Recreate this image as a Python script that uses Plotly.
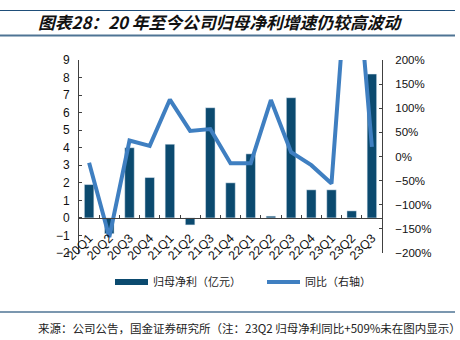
import plotly.graph_objects as go

categories = ["20Q1", "20Q2", "20Q3", "20Q4", "21Q1", "21Q2", "21Q3", "21Q4",
              "22Q1", "22Q2", "22Q3", "22Q4", "23Q1", "23Q2", "23Q3"]
net_profit = [1.9, -0.9, 4.0, 2.3, 4.2, -0.4, 6.28, 2.0,
              3.65, 0.1, 6.85, 1.6, 1.6, 0.4, 8.2]
yoy_pct = [-13, -167, 33, 22, 118, 53, 57, -14,
           -14, 117, 9, -18, -56, 509, 20]

bar_name = "归母净利（亿元）"
line_name = "同比（右轴）"
title_text = "图表28：20 年至今公司归母净利增速仍较高波动"
source_text = "来源：公司公告，国金证券研究所（注：23Q2 归母净利同比+509%未在图内显示）"

BAR_COLOR = "#0b4a6f"
LINE_COLOR = "#3f7fc1"
AXIS_COLOR = "#404040"
CJK = "Noto Sans CJK SC"
LAT = "Liberation Sans"

W, H = 460, 340
L, R, T, B = 79, 78, 60, 87
PW, PH = W - L - R, H - T - B

def px_x(px):
    return (px - L) / PW

def px_y(py):
    return (H - B - py) / PH

fig = go.Figure()
fig.add_trace(go.Bar(x=categories, y=net_profit, marker_color=BAR_COLOR,
                     name=bar_name, showlegend=False, yaxis="y"))
fig.add_trace(go.Scatter(x=categories, y=yoy_pct, mode="lines",
                         line=dict(color=LINE_COLOR, width=4), name=line_name,
                         showlegend=False, yaxis="y2"))
# legend entries
fig.add_trace(go.Scatter(x=[None], y=[None], mode="lines",
                         line=dict(color=BAR_COLOR, width=6), name=bar_name, yaxis="y"))
fig.add_trace(go.Scatter(x=[None], y=[None], mode="lines",
                         line=dict(color=LINE_COLOR, width=4), name=line_name, yaxis="y2"))

fig.update_layout(
    width=W, height=H,
    margin=dict(l=L, r=R, t=T, b=B, pad=0),
    plot_bgcolor="white", paper_bgcolor="white",
    bargap=0.53,
    showlegend=True,
    legend=dict(orientation="h", x=px_x(110), xanchor="left", y=px_y(282), yanchor="middle",
                font=dict(family=CJK, size=11, color="#222"), itemwidth=33,
                entrywidth=104, bgcolor="rgba(0,0,0,0)", traceorder="normal"),
    xaxis=dict(type="category", categoryorder="array", categoryarray=categories,
               anchor="free", position=2 / 11, showline=True, linecolor=AXIS_COLOR, linewidth=1,
               ticks="inside", ticklen=3, tickcolor=AXIS_COLOR, tickson="boundaries",
               tickangle=-45, tickfont=dict(family=LAT, size=12.5, color="#111"),
               ticklabelstandoff=7,
               showgrid=False, zeroline=False),
    yaxis=dict(range=[-2, 9], dtick=1, tick0=0, showline=True, linecolor=AXIS_COLOR, linewidth=1,
               ticks="inside", ticklen=3, tickcolor=AXIS_COLOR,
               tickfont=dict(family=LAT, size=12, color="#111"),
               showgrid=False, zeroline=False, ticklabelstandoff=6),
    yaxis2=dict(range=[-200, 200], dtick=50, tick0=0, overlaying="y", side="right",
                ticksuffix="%", showline=True, linecolor=AXIS_COLOR, linewidth=1,
                ticks="inside", ticklen=3, tickcolor=AXIS_COLOR,
                tickfont=dict(family=LAT, size=11.5, color="#111"),
                showgrid=False, zeroline=False, ticklabelstandoff=10),
)

shapes = [
    dict(type="line", xref="paper", yref="paper", x0=px_x(0), x1=px_x(455),
         y0=px_y(10.5), y1=px_y(10.5), line=dict(color="#1f4e79", width=1)),
    dict(type="line", xref="paper", yref="paper", x0=px_x(0), x1=px_x(455),
         y0=px_y(35.5), y1=px_y(35.5), line=dict(color="#4f7494", width=2)),
    dict(type="line", xref="paper", yref="paper", x0=px_x(0), x1=px_x(455),
         y0=px_y(312), y1=px_y(312), line=dict(color="#4f7494", width=1.5)),
]
fig.update_layout(shapes=shapes)

fig.add_annotation(text="<i>" + title_text + "</i>", xref="paper", yref="paper",
                   x=px_x(36), y=px_y(22.5), xanchor="left", yanchor="middle",
                   showarrow=False, font=dict(family=CJK, size=16.8, color="#111", weight=600))
fig.add_annotation(text=source_text, xref="paper", yref="paper",
                   x=px_x(36), y=px_y(327.5), xanchor="left", yanchor="middle",
                   showarrow=False, font=dict(family=CJK, size=11.5, color="#222"))

fig.write_html("out.html")
